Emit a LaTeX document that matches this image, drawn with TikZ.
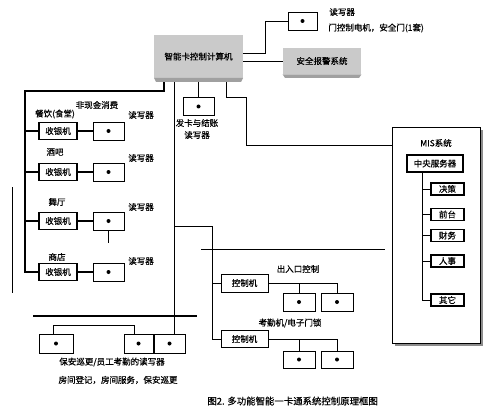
\documentclass[tikz,border=0pt]{standalone}
\usepackage{fontspec}
\setmainfont{Noto Sans CJK SC}[FakeBold=0.5]
\definecolor{boxgray}{RGB}{202,202,202}
\definecolor{edgegray}{RGB}{160,160,160}
\definecolor{shadegray}{RGB}{140,140,140}
\begin{document}
\begin{tikzpicture}[x=1pt,y=-1pt,
  font=\fontsize{8.5}{10}\selectfont,
  line width=0.8pt,
  gbox/.style={fill=boxgray, inner sep=0pt},
  regbox/.style={draw, line width=1.1pt, inner sep=0pt, minimum width=38pt, minimum height=17pt},
  rdrbox/.style={draw, line width=0.9pt, inner sep=0pt, minimum width=31pt, minimum height=18pt},
  ctrlbox/.style={draw, line width=0.9pt, inner sep=0pt, minimum width=47pt, minimum height=18pt},
  subbox/.style={draw, line width=1.1pt, inner sep=0pt, minimum width=33pt, minimum height=12pt},
  lbl/.style={inner sep=0pt},
  busline/.style={line width=1.4pt}
]
\useasboundingbox[fill=white] (0,0) rectangle (504,412);

% ---------- top: computer, alarm, gate reader ----------
\node[gbox, minimum width=89pt, minimum height=43pt] (comp) at (198.5,56.5) {智能卡控制计算机};
\node[gbox, minimum width=78pt, minimum height=26pt] (alarm) at (322,61) {安全报警系统};
\node[rdrbox, minimum width=29pt] (toprdr) at (302.5,21) {};
\node[lbl, anchor=west] (toprdrt) at (329,12) {读写器};
\node[lbl, anchor=west] (gatet) at (328,28) {门控制电机，安全门(1套)};

% ---------- MIS system ----------
\fill[shadegray] (395,130) rectangle (483,346);
\node[draw, fill=white, line width=0.9pt, minimum width=88pt, minimum height=216pt, inner sep=0pt] (mis) at (436,235) {};
\node[lbl] (mist) at (436,143) {MIS系统};
\node[draw, line width=1.8pt, inner sep=0pt, minimum width=56pt, minimum height=17pt] (srv) at (435,163.5) {中央服务器};
\node[subbox] (s1) at (447.5,189) {决策};
\node[subbox] (s2) at (447.5,214.5) {前台};
\node[subbox] (s3) at (447.5,235.5) {财务};
\node[subbox] (s4) at (447.5,261) {人事};
\node[subbox] (s5) at (447.5,300) {其它};
\draw (srv.south -| 422,0) |- (s5.west);
\foreach \s in {s1,s2,s3,s4} \draw (\s.west -| 422,0) -- (\s.west);

% ---------- left: non-cash consumption ----------
\node[lbl] (nct) at (97,105) {非现金消费};
\node[lbl] (l1) at (55,114) {餐饮(食堂)};
\node[lbl] (l2) at (55,152) {酒吧};
\node[lbl] (l3) at (57,202) {舞厅};
\node[lbl] (l4) at (57,257) {商店};
\node[regbox] (reg1) at (58,131) {收银机};
\node[regbox] (reg2) at (58,172) {收银机};
\node[regbox] (reg3) at (58,221) {收银机};
\node[regbox] (reg4) at (58,272) {收银机};
\node[rdrbox] (rdr1) at (108.5,131) {};
\node[rdrbox] (rdr2) at (108.5,172) {};
\node[rdrbox] (rdr3) at (108.5,221) {};
\node[rdrbox] (rdr4) at (108.5,272) {};
\node[lbl] (r1t) at (141,115) {读写器};
\node[lbl] (r2t) at (141,158) {读写器};
\node[lbl] (r3t) at (141,207) {读写器};
\node[lbl] (r4t) at (141,261) {读写器};
\foreach \i in {1,2,3,4} \draw[line width=1.1pt] (reg\i.east) -- (rdr\i.west);
\coordinate (r3end) at (108.5,243);
\draw[line width=1.4pt] (rdr3.south) -- (r3end);
\coordinate (sideA) at (12,187);
\coordinate (sideB) at (12,293);
\draw (sideA) -- (sideB);

% ---------- card issue reader ----------
\node[rdrbox] (cardrdr) at (198.5,106.5) {};
\node[lbl] (cardt1) at (197,123) {发卡与结账};
\node[lbl] (cardt2) at (197,135) {读写器};

% ---------- bottom: patrol / attendance readers ----------
\coordinate (tbA) at (33,316);
\coordinate (tbB) at (197,316);
\draw[line width=2pt] (tbA) -- (tbB);
\node[rdrbox, minimum width=34pt, minimum height=19pt] (b1) at (56,343.5) {};
\node[rdrbox, minimum width=29pt, minimum height=19pt] (b2) at (138.5,343.5) {};
\node[rdrbox, minimum width=31pt, minimum height=19pt] (b3) at (169.5,343.5) {};
\coordinate (bl1) at (53,325);
\coordinate (bl2) at (134,325);
\draw (b1.north -| bl1) -- (bl1) -- (bl2) -- (b2.north -| bl2);
\node[lbl] (bt1) at (112,362) {保安巡更/员工考勤的读写器};
\node[lbl] (bt2) at (118,380) {房间登记，房间服务，保安巡更};

% ---------- bottom right: entry / attendance control ----------
\coordinate (hlA) at (201,249);
\coordinate (hlB) at (385,249);
\draw (hlA) -- (hlB);
\node[lbl] (ent) at (298,269) {出入口控制};
\node[ctrlbox] (ctrl1) at (244.5,283) {控制机};
\node[rdrbox, minimum width=32pt] (d1a) at (299,302) {};
\node[rdrbox, minimum width=32pt] (d1b) at (337,302) {};
\node[lbl] (att) at (290,323) {考勤机/电子门锁};
\node[ctrlbox, minimum height=17pt] (ctrl2) at (244.5,339) {控制机};
\node[rdrbox, minimum width=32pt, minimum height=17pt] (d2a) at (299,359.5) {};
\node[rdrbox, minimum width=32pt, minimum height=17pt] (d2b) at (337,359.5) {};
\draw (ctrl1.east) -| (d1b.north);
\draw (d1a.north |- ctrl1.east) -- (d1a.north);
\draw (ctrl2.east) -| (d2b.north);
\draw (d2a.north |- ctrl2.east) -- (d2a.north);

% dots in readers
\foreach \r in {toprdr,rdr1,rdr2,rdr3,rdr4,cardrdr,b1,b2,b3,d1a,d1b,d2a,d2b}
  \fill (\r.center) circle (2pt);

% ---------- connectors from computer ----------
\draw[busline] (comp.south -| 164,0) |- (25,91) |- (reg4.west);
\foreach \i in {1,2,3} \draw[busline] (reg\i.west -| 25,0) -- (reg\i.west);
\draw (comp.south -| 174,0) -- (b3.north -| 174,0);
\coordinate (busb) at (174,226);
\draw (busb) -| (ctrl2.west -| 212,0) -- (ctrl2.west);
\draw (ctrl1.west -| 212,0) -- (ctrl1.west);
\draw (comp.south -| 198.5,0) -- (cardrdr.north);
\draw (comp.south -| 226,0) |- (246,97) |- (mis.west |- 0,145);
\draw (comp.east |- 0,53) -| (265,21) -- (toprdr.west);
\draw (comp.east |- alarm.west) -- (alarm.west);

% 3D bottom edges of gray boxes
\fill[edgegray] (154,78) -- (243,78) -- (241,82) -- (156,82) -- cycle;
\fill[edgegray] (alarm.south west) -- (alarm.south east) -- (359,78) -- (285,78) -- cycle;

% caption
\node[lbl, anchor=west, font=\fontsize{9.4}{11}\selectfont] (cap) at (207,401) {图2. 多功能智能一卡通系统控制原理框图};
\end{tikzpicture}
\end{document}
